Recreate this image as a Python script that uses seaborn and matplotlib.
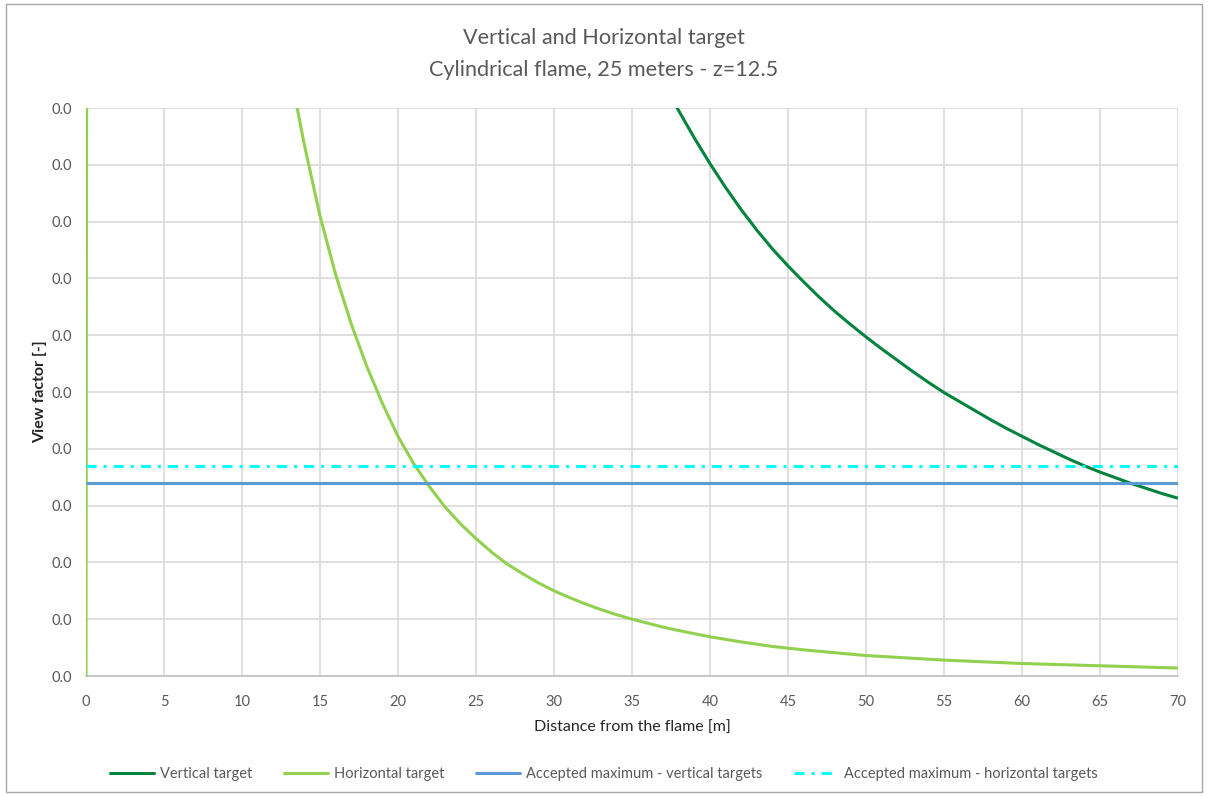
import numpy as np
import pandas as pd
import matplotlib
matplotlib.use("Agg")
import matplotlib.pyplot as plt
from matplotlib.ticker import FormatStrFormatter, MultipleLocator
from matplotlib.patches import Rectangle
import seaborn as sns

# View factor along the distance from a 25 m cylindrical flame (z = 12.5)
vertical_x = [37, 38, 39, 40, 41, 42, 43, 44, 45, 46, 47, 48, 49, 50, 51, 52, 53,
              54, 55, 56, 57, 58, 59, 60, 61, 62, 63, 64, 65, 66, 67, 68, 69, 70]
vertical_vf = [0.01045, 0.00995, 0.00947, 0.00902, 0.00860, 0.00821, 0.00785,
               0.00752, 0.00722, 0.00694, 0.00667, 0.00642, 0.00619, 0.00597,
               0.00576, 0.00556, 0.00536, 0.00517, 0.00499, 0.00483, 0.00467,
               0.00451, 0.00436, 0.00422, 0.00408, 0.00395, 0.00382, 0.00370,
               0.00359, 0.00349, 0.00339, 0.00330, 0.00321, 0.00313]

horizontal_x = [0, 1, 13, 14, 15, 16, 17, 18, 19, 20, 21, 22, 23, 24, 25, 26, 27,
                28, 29, 30, 31, 32, 33, 34, 35, 36, 37, 38, 39, 40, 42, 44, 46,
                48, 50, 55, 60, 65, 70]
horizontal_vf = [0.0, 0.25, 0.01075, 0.00935, 0.00810, 0.00707, 0.00620, 0.00545,
                 0.00480, 0.00422, 0.00374, 0.00334, 0.00298, 0.00268, 0.00242,
                 0.00218, 0.00197, 0.00180, 0.00164, 0.00150, 0.00138, 0.00127,
                 0.00117, 0.00108, 0.00100, 0.00093, 0.00086, 0.00080, 0.000745,
                 0.00069, 0.00060, 0.00052, 0.00046, 0.00041, 0.00036, 0.00028,
                 0.00022, 0.00018, 0.00014]

limit_x = [0, 70]
accepted_vertical = 0.0034
accepted_horizontal = 0.0037

series_names = ["Vertical target", "Horizontal target",
                "Accepted maximum - vertical targets",
                "Accepted maximum - horizontal targets"]
series_colors = ["#00843D", "#92D050", "#5B9BD5", "#00FFFF"]

x_ticks = list(range(0, 71, 5))

frames = [
    pd.DataFrame({"x": vertical_x, "vf": vertical_vf, "series": series_names[0]}),
    pd.DataFrame({"x": horizontal_x, "vf": horizontal_vf, "series": series_names[1]}),
    pd.DataFrame({"x": limit_x, "vf": [accepted_vertical] * 2, "series": series_names[2]}),
    pd.DataFrame({"x": limit_x, "vf": [accepted_horizontal] * 2, "series": series_names[3]}),
]
df = pd.concat(frames, ignore_index=True)

sns.set_theme(style="white")
plt.rcParams["font.family"] = ["Lato", "DejaVu Sans"]

fig = plt.figure(figsize=(12.08, 7.96), dpi=100)
ax = fig.add_axes([86 / 1208, 1 - 676 / 796, (1178 - 86) / 1208, (676 - 108) / 796])

palette = dict(zip(series_names, series_colors))
dashes = {series_names[0]: "", series_names[1]: "",
          series_names[2]: "", series_names[3]: (3.3, 2.3, 1.0, 2.3)}
sns.lineplot(data=df, x="x", y="vf", hue="series", style="series",
             hue_order=series_names, style_order=series_names,
             palette=palette, dashes=dashes, linewidth=2.2,
             sort=False, estimator=None, ax=ax, legend=False)

# keep the series stacking order: vertical, horizontal, then the limits
for i, line in enumerate(ax.get_lines()):
    line.set_zorder(3 + i)
    line.set_solid_capstyle("butt")

ax.set_xlim(0, 70)
ax.set_ylim(0, 0.01)
ax.set_xticks(x_ticks)
ax.yaxis.set_major_locator(MultipleLocator(0.001))
ax.yaxis.set_major_formatter(FormatStrFormatter("%.1f"))
ax.grid(True, color="#D9D9D9", linewidth=1.2, zorder=0)
ax.set_axisbelow(True)
for side in ["top", "right", "left"]:
    ax.spines[side].set_visible(False)
ax.spines["bottom"].set_color("#BFBFBF")
ax.spines["bottom"].set_linewidth(1.2)
ax.tick_params(axis="both", length=0, labelsize=10.5, labelcolor="#595959")
ax.tick_params(axis="x", pad=14)
ax.tick_params(axis="y", pad=10)

ax.set_xlabel("Distance from the flame [m]", fontsize=11.5, color="#262626", labelpad=8)
ax.set_ylabel("View factor [-]", fontsize=11.5, color="#262626", fontweight="bold",
              labelpad=3)

fig.text(0.5, 1 - 38 / 796, "Vertical and Horizontal target", ha="center", va="center",
         fontsize=15.6, color="#595959")
fig.text(0.5, 1 - 70 / 796, "Cylindrical flame, 25 meters - z=12.5", ha="center",
         va="center", fontsize=15.6, color="#595959")

handles = [plt.Line2D([], [], color=c, lw=2.2,
                      linestyle=(0, dashes[n]) if dashes[n] else "-")
           for n, c in zip(series_names, series_colors)]
fig.legend(handles, series_names, loc="center", bbox_to_anchor=(0.5, 1 - 774 / 796),
           ncol=4, frameon=False, fontsize=10.5, labelcolor="#595959",
           handlelength=3.0, handletextpad=0.4, columnspacing=2.2)

fig.add_artist(Rectangle((6 / 1208, 4 / 796), 1196 / 1208, 788 / 796,
                         transform=fig.transFigure, fill=False,
                         edgecolor="#A6A6A6", linewidth=1.0))

fig.savefig("out.png", dpi=100, facecolor="white")
